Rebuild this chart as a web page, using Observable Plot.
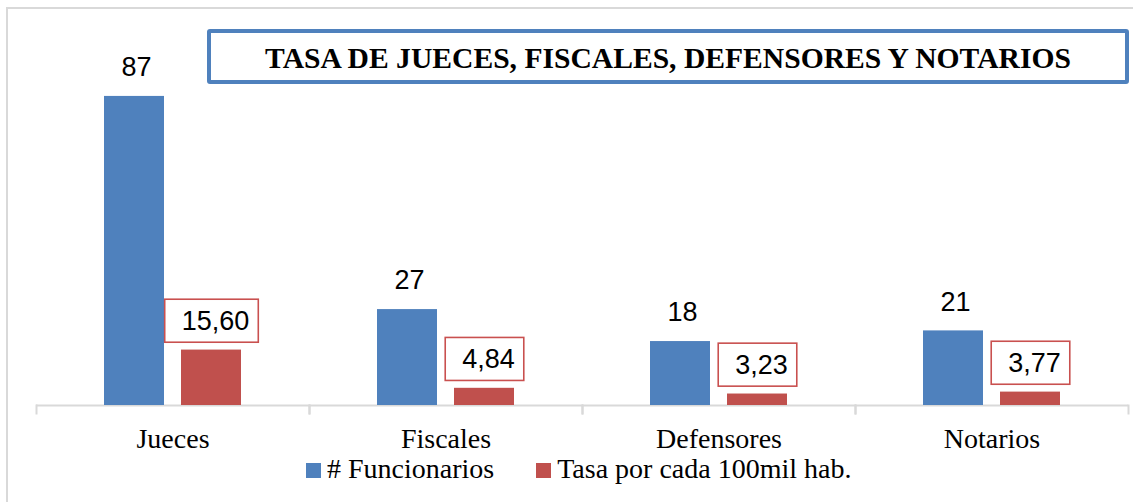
<!DOCTYPE html>
<html>
<head>
<meta charset="utf-8">
<script src="https://cdn.jsdelivr.net/npm/d3@7"></script>
<script src="https://cdn.jsdelivr.net/npm/@observablehq/plot@0.6"></script>
<style>
html, body { margin: 0; padding: 0; background: #fff; overflow: hidden; }
#wrap { position: relative; width: 1133px; height: 502px; }
#wrap svg { display: block; }
#border { position: absolute; left: 6px; top: 7px; right: 0; bottom: 0; border-left: 2px solid #d9d9d9; border-top: 2px solid #d9d9d9; pointer-events: none; z-index: 2; }
#title { position: absolute; left: 207px; top: 29px; width: 922px; height: 55px; box-sizing: border-box; border: 4px solid #4F81BD; border-radius: 3px; padding-top: 3px; display: flex; align-items: center; justify-content: center; font: bold 29.6px "Liberation Serif", "Times New Roman", serif; color: #000; white-space: nowrap; z-index: 2; }
#legend { height: 47px; display: flex; align-items: flex-start; padding-left: 306px; font: 28px/28px "Liberation Serif", "Times New Roman", serif; color: #000; white-space: nowrap; }
#legend .item { display: flex; align-items: flex-start; margin-right: 42px; }
#legend .sw { width: 15px; height: 15px; margin-top: 8px; margin-right: 6px; }
</style>
</head>
<body>
<div id="wrap">
  <div id="border"></div>
  <div id="title"></div>
  <div id="chart"></div>
  <div id="legend"></div>
</div>
<script>
const titleText = "TASA DE JUECES, FISCALES, DEFENSORES Y NOTARIOS";
const categories = ["Jueces", "Fiscales", "Defensores", "Notarios"];
const series = ["# Funcionarios", "Tasa por cada 100mil hab."];
const funcionarios = [87, 27, 18, 21];
const tasa = [15.60, 4.84, 3.23, 3.77];
const colors = ["#4F81BD", "#C0504D"];

const rows = categories.flatMap((c, i) => [
  {category: c, series: series[0], value: funcionarios[i], label: String(funcionarios[i])},
  {category: c, series: series[1], value: tasa[i], label: tasa[i].toFixed(2).replace(".", ",")}
]);

document.getElementById("title").textContent = titleText;

const grid = "#d9d9d9";
const plot = Plot.plot({
  width: 1133,
  height: 455,
  marginLeft: 36,
  marginRight: 5,
  marginTop: 0,
  marginBottom: 50,
  style: {background: "transparent", overflow: "visible"},
  fx: {domain: categories, padding: 0},
  x: {domain: series, paddingInner: 0.219, paddingOuter: 0.871, axis: null},
  y: {domain: [0, 114], axis: null},
  color: {domain: series, range: colors},
  marks: [
    Plot.ruleY([0], {stroke: grid, strokeWidth: 2}),
    Plot.frame({anchor: "left", stroke: grid, strokeWidth: 2, insetTop: 405, insetBottom: -8}),
    Plot.frame({anchor: "right", stroke: grid, strokeWidth: 2, insetTop: 405, insetBottom: -8}),
    Plot.barY(rows, {fx: "category", x: "series", y: "value", fill: "series"}),
    Plot.text(rows.filter(d => d.series === series[0]), {
      fx: "category", x: "series", y: "value", text: "label",
      dy: -29, dx: 2, fontSize: 27, fontFamily: "Liberation Sans", fill: "#000"
    }),
    Plot.text(rows.filter(d => d.series === series[1]), {
      fx: "category", x: "series", y: "value", text: "label",
      dy: -29, dx: 4, fontSize: 27, fontFamily: "Liberation Sans", fill: "#000", className: "redlab"
    }),
    Plot.axisFx({anchor: "bottom", tickSize: 0, tickPadding: 23, fontSize: 28, fontFamily: "Liberation Serif", label: null, fill: "#000"})
  ]
});
document.getElementById("chart").appendChild(plot);

// boxes around the rate labels, sized from the rendered text
const ns = "http://www.w3.org/2000/svg";
plot.querySelectorAll(".redlab text").forEach(t => {
  const bb = t.getBBox();
  const r = document.createElementNS(ns, "rect");
  const cy = bb.y + bb.height / 2;
  r.setAttribute("x", bb.x - 17);
  r.setAttribute("y", cy - 21.5);
  r.setAttribute("width", bb.width + 26);
  r.setAttribute("height", 43);
  r.setAttribute("fill", "#fff");
  r.setAttribute("stroke", "#C9504F");
  r.setAttribute("stroke-width", 1.6);
  const tr = t.getAttribute("transform");
  if (tr) r.setAttribute("transform", tr);
  t.parentNode.insertBefore(r, t);
});

// legend
const legend = document.getElementById("legend");
series.forEach((s, i) => {
  const item = document.createElement("div");
  item.className = "item";
  const sw = document.createElement("div");
  sw.className = "sw";
  sw.style.background = colors[i];
  const lab = document.createElement("span");
  lab.textContent = s;
  item.appendChild(sw);
  item.appendChild(lab);
  legend.appendChild(item);
});
</script>
</body>
</html>
